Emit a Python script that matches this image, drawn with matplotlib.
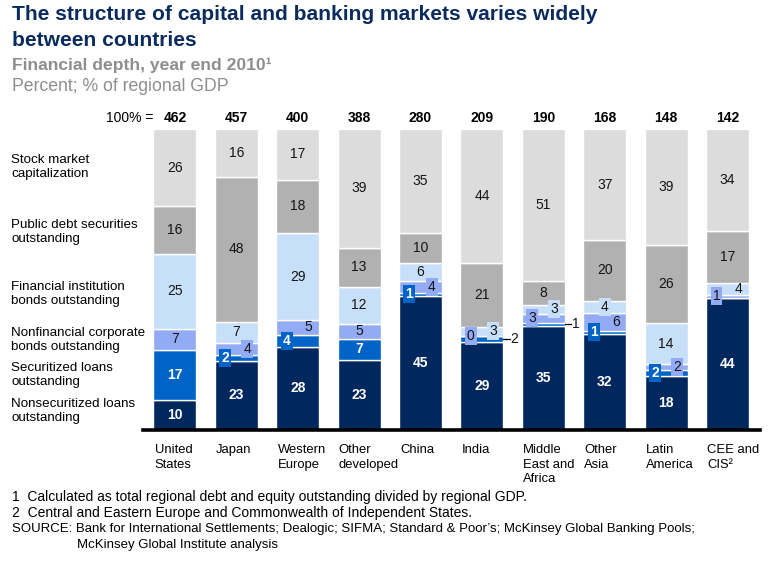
import matplotlib
matplotlib.use('Agg')
import matplotlib.pyplot as plt
from matplotlib import font_manager
import numpy as np

# ---------------- data ----------------
regions = ["United\nStates", "Japan", "Western\nEurope", "Other\ndeveloped", "China",
           "India", "Middle\nEast and\nAfrica", "Other\nAsia", "Latin\nAmerica", "CEE and\nCIS\u00b2"]
totals = [462, 457, 400, 388, 280, 209, 190, 168, 148, 142]
series_names = ["Nonsecuritized loans\noutstanding", "Securitized loans\noutstanding",
                "Nonfinancial corporate\nbonds outstanding", "Financial institution\nbonds outstanding",
                "Public debt securities\noutstanding", "Stock market\ncapitalization"]
nonsec = [10, 23, 28, 23, 45, 29, 35, 32, 18, 44]
sec = [17, 2, 4, 7, 1, 2, 1, 1, 2, 0]
nonfin = [7, 4, 5, 5, 4, 0, 3, 6, 2, 1]
fin = [25, 7, 29, 12, 6, 3, 3, 4, 14, 4]
public = [16, 48, 18, 13, 10, 21, 8, 20, 26, 17]
stock = [26, 16, 17, 39, 35, 44, 51, 37, 39, 34]

# ---------------- styling ----------------
colors = ["#00285E", "#0063C6", "#93AAF4", "#C7DFF8", "#B1B1B1", "#DCDCDC"]
text_white = [True, True, False, False, False, False]
# label placement per series (c=center, L=left box, R=right box, r=right plain, C=center box, lead=leader)
modes = [
    ['c'] * 10,
    ['c', 'L', 'L', 'c', 'L', 'lead', 'lead', 'L', 'L', ''],
    ['c', 'R', 'r', 'c', 'R', 'L', 'L', 'r', 'R', 'L'],
    ['c', 'c', 'c', 'c', 'c', 'R', 'R', 'C', 'c', 'r'],
    ['c'] * 10,
    ['c'] * 10,
]

avail = {f.name for f in font_manager.fontManager.ttflist}
base = 'Liberation Sans' if 'Liberation Sans' in avail else 'DejaVu Sans'
plt.rcParams['font.family'] = [base, 'DejaVu Sans']

W, H = 770, 562
fig = plt.figure(figsize=(W / 100, H / 100), dpi=100)


def fx(x):
    return x / W


def fy(y):
    return 1 - y / H


ax = fig.add_axes([fx(143), fy(430), (760 - 143) / W, (430 - 129) / H])
ax.set_xlim(-0.52, 9.53)
ax.set_ylim(0, 100)
for s in ['top', 'right', 'left']:
    ax.spines[s].set_visible(False)
ax.spines['bottom'].set_linewidth(2.6)
ax.spines['bottom'].set_color('black')
ax.set_xticks([])
ax.set_yticks([])

data = np.array([nonsec, sec, nonfin, fin, public, stock], dtype=float)
sums = data.sum(axis=0)
shares = data / sums * 100
x = np.arange(len(regions))
bw = 0.70
off = 0.18
bottom = np.zeros(len(regions))
for k in range(6):
    ax.bar(x, shares[k], bw, bottom=bottom, color=colors[k], edgecolor='white',
           linewidth=1.0, zorder=2)
    for i in range(len(regions)):
        m = modes[k][i]
        if not m:
            continue
        yc = bottom[i] + shares[k][i] / 2
        val = str(int(data[k][i]))
        tcol = 'white' if text_white[k] else '#151515'
        weight = 'bold' if text_white[k] else 'normal'
        kw = dict(ha='center', va='center', fontsize=10, color=tcol, fontweight=weight, zorder=5)
        box = dict(boxstyle='square,pad=0.15', fc=colors[k], ec='none')
        if m == 'c':
            ax.text(x[i], yc, val, **kw)
        elif m == 'L':
            ax.text(x[i] - off, yc, val, bbox=box, **kw)
        elif m == 'R':
            ax.text(x[i] + off, yc, val, bbox=box, **kw)
        elif m == 'C':
            ax.text(x[i], yc, val, bbox=box, **kw)
        elif m == 'r':
            ax.text(x[i] + off, yc, val, **kw)
        elif m == 'lead':
            ax.plot([x[i] + bw / 2, x[i] + bw / 2 + 0.10], [yc, yc], color='black', lw=0.9,
                    zorder=4, clip_on=False)
            ax.text(x[i] + bw / 2 + 0.12, yc, val, ha='left', va='center', fontsize=10,
                    color='#151515', zorder=5)
    bottom += shares[k]

# totals row
for i in range(len(regions)):
    ax.text(x[i], 103.5, str(totals[i]), ha='center', va='center', fontsize=10,
            fontweight='bold', color='black')
fig.text(fx(153), fy(118), "100% =", ha='right', va='center', fontsize=10, color='black')

# region labels
for i in range(len(regions)):
    ax.text(x[i] - bw / 2 + 0.02, -4.6, regions[i], ha='left', va='top', fontsize=9.4,
            linespacing=1.3, color='black')

# series labels on the left
left_y = [411, 375, 340, 294, 232, 167]
for k in range(6):
    fig.text(fx(11), fy(left_y[k]), series_names[k], ha='left', va='center', fontsize=9.6,
             linespacing=1.25, color='black')

# titles
navy = '#0A2B5C'
fig.text(fx(12), fy(15), "The structure of capital and banking markets varies widely",
         ha='left', va='center', fontsize=15.1, fontweight='bold', color=navy)
fig.text(fx(12), fy(40), "between countries", ha='left', va='center', fontsize=15.1,
         fontweight='bold', color=navy)
fig.text(fx(12), fy(65), "Financial depth, year end 2010\u00b9", ha='left', va='center',
         fontsize=12.6, fontweight='bold', color='#8E8E8E')
fig.text(fx(12), fy(86), "Percent; % of regional GDP", ha='left', va='center', fontsize=12.7,
         color='#8E8E8E')

# footnotes
fig.text(fx(12), fy(497), "1  Calculated as total regional debt and equity outstanding divided by regional GDP.",
         ha='left', va='center', fontsize=10, color='black')
fig.text(fx(12), fy(513), "2  Central and Eastern Europe and Commonwealth of Independent States.",
         ha='left', va='center', fontsize=10, color='black')
fig.text(fx(12), fy(529), "SOURCE: Bank for International Settlements; Dealogic; SIFMA; Standard & Poor\u2019s; McKinsey Global Banking Pools;",
         ha='left', va='center', fontsize=9.5, color='black')
fig.text(fx(77), fy(545), "McKinsey Global Institute analysis",
         ha='left', va='center', fontsize=9.5, color='black')

fig.savefig('out.png', dpi=100)
